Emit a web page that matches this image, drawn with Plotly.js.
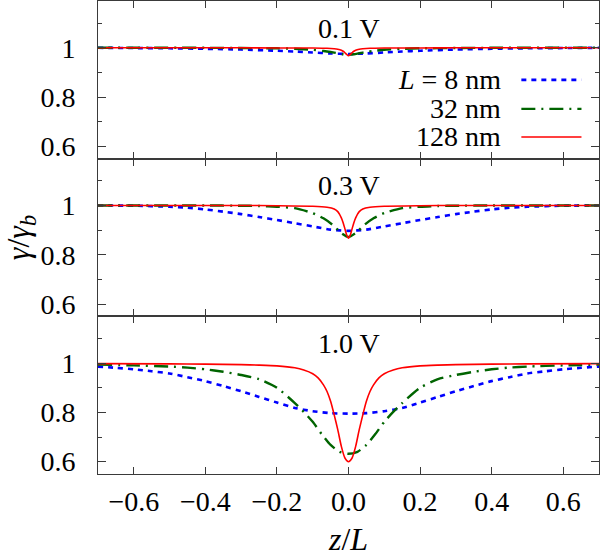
<!DOCTYPE html>
<html>
<head>
<meta charset="utf-8">
<script src="https://cdn.plot.ly/plotly-3.0.1.min.js"></script>
<style>html,body{margin:0;padding:0;background:#fff;}#chart{width:600px;height:559px;}</style>
</head>
<body>
<div id="chart"></div>
<script>
// ---- data: gamma/gamma_b versus z/L ----
// 0.1 V panel
const z01_L8   = [-0.7,-0.6,-0.5,-0.4,-0.3,-0.2,-0.15,-0.1,-0.05,0,0.05,0.1,0.15,0.2,0.3,0.4,0.5,0.6,0.7];
const g01_L8   = [1.0,0.999,0.998,0.996,0.993,0.988,0.985,0.981,0.977,0.975,0.977,0.981,0.985,0.988,0.993,0.996,0.998,0.999,1.0];
const z01_L32  = [-0.7,-0.4,-0.3,-0.2,-0.15,-0.1,-0.07,-0.05,-0.03,-0.015,0,0.015,0.03,0.05,0.07,0.1,0.15,0.2,0.3,0.4,0.7];
const g01_L32  = [1.0,1.0,0.999,0.998,0.996,0.992,0.987,0.983,0.978,0.974,0.972,0.974,0.978,0.983,0.987,0.992,0.996,0.998,0.999,1.0,1.0];
const z01_L128 = [-0.7,-0.3,-0.2,-0.1,-0.06,-0.04,-0.03,-0.02,-0.015,-0.01,-0.005,0,0.005,0.01,0.015,0.02,0.03,0.04,0.06,0.1,0.2,0.3,0.7];
const g01_L128 = [1.0,1.0,0.9995,0.999,0.998,0.996,0.994,0.99,0.986,0.98,0.973,0.968,0.973,0.98,0.986,0.99,0.994,0.996,0.998,0.999,0.9995,1.0,1.0];
// 0.3 V panel
const z03_L8   = [-0.7,-0.6,-0.5,-0.45,-0.4,-0.35,-0.3,-0.25,-0.2,-0.15,-0.1,-0.05,0,0.05,0.1,0.15,0.2,0.25,0.3,0.35,0.4,0.45,0.5,0.6,0.7];
const g03_L8   = [1.0,0.999,0.995,0.991,0.984,0.975,0.965,0.953,0.941,0.928,0.915,0.902,0.897,0.902,0.915,0.928,0.941,0.953,0.965,0.975,0.984,0.991,0.995,0.999,1.0];
const z03_L32  = [-0.7,-0.4,-0.3,-0.25,-0.2,-0.15,-0.1,-0.07,-0.045,-0.02,0,0.02,0.045,0.07,0.1,0.15,0.2,0.25,0.3,0.4,0.7];
const g03_L32  = [1.0,1.0,0.999,0.998,0.995,0.989,0.969,0.948,0.922,0.888,0.872,0.888,0.922,0.948,0.969,0.989,0.995,0.998,0.999,1.0,1.0];
const z03_L128 = [-0.7,-0.3,-0.2,-0.1,-0.06,-0.04,-0.03,-0.02,-0.015,-0.01,-0.005,0,0.005,0.01,0.015,0.02,0.03,0.04,0.06,0.1,0.2,0.3,0.7];
const g03_L128 = [1.0,1.0,0.999,0.997,0.993,0.986,0.975,0.95,0.93,0.905,0.88,0.867,0.88,0.905,0.93,0.95,0.975,0.986,0.993,0.997,0.999,1.0,1.0];
// 1.0 V panel
const z10_L8   = [-0.7,-0.65,-0.6,-0.55,-0.5,-0.45,-0.4,-0.35,-0.3,-0.25,-0.2,-0.15,-0.1,-0.05,0,0.05,0.1,0.15,0.2,0.25,0.3,0.35,0.4,0.45,0.5,0.55,0.6,0.65,0.7];
const g10_L8   = [0.986,0.981,0.975,0.967,0.958,0.943,0.927,0.907,0.886,0.863,0.84,0.818,0.805,0.797,0.795,0.797,0.805,0.818,0.84,0.863,0.886,0.907,0.927,0.943,0.958,0.967,0.975,0.981,0.986];
const z10_L32  = [-0.7,-0.6,-0.5,-0.45,-0.4,-0.35,-0.3,-0.25,-0.2,-0.15,-0.125,-0.1,-0.075,-0.05,-0.025,0,0.025,0.05,0.075,0.1,0.125,0.15,0.2,0.25,0.3,0.35,0.4,0.45,0.5,0.6,0.7];
const g10_L32  = [0.994,0.991,0.986,0.982,0.975,0.965,0.952,0.935,0.9,0.838,0.802,0.762,0.712,0.668,0.64,0.632,0.64,0.668,0.712,0.762,0.802,0.838,0.9,0.935,0.952,0.965,0.975,0.982,0.986,0.991,0.994];
const z10_L128 = [-0.7,-0.5,-0.4,-0.3,-0.25,-0.2,-0.15,-0.125,-0.1,-0.085,-0.07,-0.06,-0.05,-0.04,-0.03,-0.02,-0.01,0,0.01,0.02,0.03,0.04,0.05,0.06,0.07,0.085,0.1,0.125,0.15,0.2,0.25,0.3,0.4,0.5,0.7];
const g10_L128 = [0.998,0.997,0.996,0.994,0.992,0.989,0.981,0.972,0.957,0.94,0.912,0.885,0.845,0.79,0.73,0.662,0.615,0.60,0.615,0.662,0.73,0.79,0.845,0.885,0.912,0.94,0.957,0.972,0.981,0.989,0.992,0.994,0.996,0.997,0.998];

const panelLabels = ['0.1 V','0.3 V','1.0 V'];
const seriesNames = ['<i>L</i> = 8 nm','32 nm','128 nm'];

// ---- styling ----
const FONT = 'Liberation Serif, Times New Roman, serif';
const FS = 28;
const AX = '#3a3a3a';
const styles = [
  {color:'#0000ff', width:2.6, dash:'5px,5px'},
  {color:'#006400', width:2.4, dash:'14px,6px,2px,6px'},
  {color:'#ff0000', width:1.6, dash:'solid'}
];

function tr(x, y, i, xa, ya){
  return {x:x, y:y, type:'scatter', mode:'lines', name:seriesNames[i].replace(/<[^>]+>/g,''),
    xaxis:xa, yaxis:ya, showlegend:false, hoverinfo:'skip',
    line:{color:styles[i].color, width:styles[i].width, dash:styles[i].dash, shape:'spline', smoothing:0.6}};
}

const data = [
  tr(z01_L8, g01_L8, 0, 'x3','y3'), tr(z01_L32, g01_L32, 1, 'x3','y3'), tr(z01_L128, g01_L128, 2, 'x3','y3'),
  tr(z03_L8, g03_L8, 0, 'x2','y2'), tr(z03_L32, g03_L32, 1, 'x2','y2'), tr(z03_L128, g03_L128, 2, 'x2','y2'),
  tr(z10_L8, g10_L8, 0, 'x','y'),   tr(z10_L32, g10_L32, 1, 'x','y'),   tr(z10_L128, g10_L128, 2, 'x','y')
];

function xax(anchor, labels){
  const a = {anchor:anchor, range:[-0.7,0.7], dtick:0.2, tick0:0, tickformat:'.1f',
    ticks:'inside', ticklen:7, tickwidth:1, tickcolor:AX, showline:true, linecolor:AX, linewidth:1,
    mirror:'ticks', showgrid:false, zeroline:false, showticklabels:labels,
    tickfont:{family:FONT, size:FS, color:'#000'}, ticklabelstandoff:2};
  if (anchor !== 'y') a.matches = 'x';
  return a;
}
function yax(domain){
  return {domain:domain, range:[0.55,1.19], dtick:0.2, tick0:0.6,
    ticks:'inside', ticklen:8, tickwidth:1, tickcolor:AX, showline:true, linecolor:AX, linewidth:1,
    mirror:'ticks', showgrid:false, zeroline:false,
    minor:{dtick:0.1, tick0:0.6, ticks:'inside', ticklen:4, tickcolor:AX, showgrid:false},
    tickfont:{family:FONT, size:FS, color:'#000'}, ticklabelstandoff:16};
}

const layout = {
  width:600, height:559,
  margin:{l:98, r:1, t:1, b:85},
  paper_bgcolor:'#fff', plot_bgcolor:'#fff',
  font:{family:FONT, size:FS, color:'#000'},
  showlegend:false,
  xaxis: Object.assign(xax('y', true), {title:{text:'<i>z</i>/<i>L</i>', font:{family:FONT, size:32}, standoff:12}}),
  xaxis2: xax('y2', false),
  xaxis3: xax('y3', false),
  yaxis: yax([0, 1/3]),
  yaxis2: Object.assign(yax([1/3, 2/3]), {title:{text:'<i>γ</i>/<i>γ</i><sub><i>b</i></sub>', font:{family:FONT, size:32}, standoff:16}}),
  yaxis3: yax([2/3, 1]),
  annotations: [
    {xref:'x3', yref:'y3', x:0, y:1.08, text:panelLabels[0], showarrow:false, font:{family:FONT, size:FS}},
    {xref:'x2', yref:'y2', x:0, y:1.08, text:panelLabels[1], showarrow:false, font:{family:FONT, size:FS}},
    {xref:'x',  yref:'y',  x:0, y:1.08, text:panelLabels[2], showarrow:false, font:{family:FONT, size:FS}},
    {xref:'x3', yref:'y3', x:0.433, y:0.870, xanchor:'right', text:seriesNames[0], showarrow:false, font:{family:FONT, size:FS}},
    {xref:'x3', yref:'y3', x:0.433, y:0.752, xanchor:'right', text:seriesNames[1], showarrow:false, font:{family:FONT, size:FS}},
    {xref:'x3', yref:'y3', x:0.433, y:0.638, xanchor:'right', text:seriesNames[2], showarrow:false, font:{family:FONT, size:FS}}
  ],
  shapes: [
    {type:'line', xref:'x3', yref:'y3', x0:0.483, x1:0.651, y0:0.870, y1:0.870, line:{color:styles[0].color, width:styles[0].width, dash:styles[0].dash}},
    {type:'line', xref:'x3', yref:'y3', x0:0.483, x1:0.651, y0:0.752, y1:0.752, line:{color:styles[1].color, width:styles[1].width, dash:styles[1].dash}},
    {type:'line', xref:'x3', yref:'y3', x0:0.483, x1:0.651, y0:0.638, y1:0.638, line:{color:styles[2].color, width:styles[2].width, dash:styles[2].dash}}
  ]
};

Plotly.newPlot('chart', data, layout, {staticPlot:true, displayModeBar:false});
</script>
</body>
</html>
